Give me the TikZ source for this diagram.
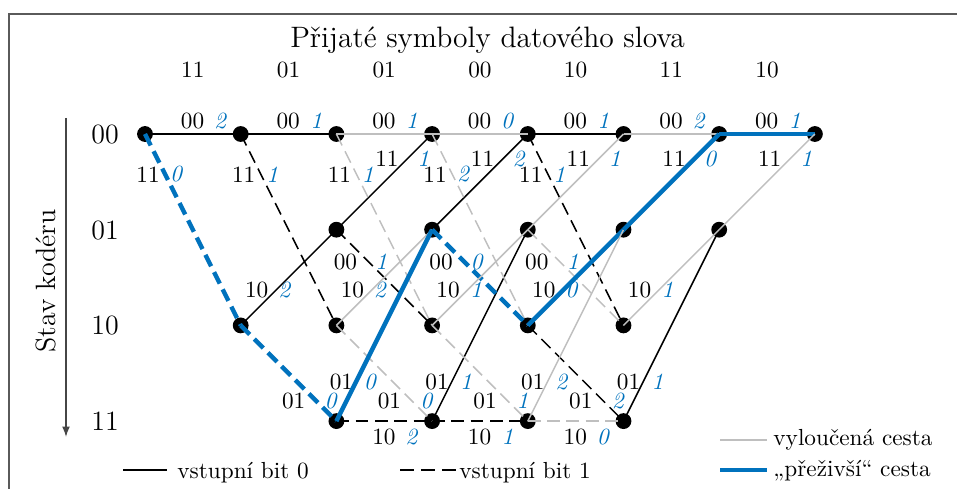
\documentclass[tikz,border=0pt]{standalone}
\usepackage{fontspec}
\usetikzlibrary{arrows.meta}
\definecolor{survblue}{RGB}{0,114,189}
\definecolor{exgray}{RGB}{191,191,191}
\definecolor{framecol}{RGB}{90,90,90}
\definecolor{axiscol}{RGB}{70,70,70}
\pgfdeclarelayer{edgesbg}
\pgfdeclarelayer{edgesfg}
\pgfsetlayers{edgesbg,main,edgesfg}

\def\getoff#1/#2/#3\relax{\def\ox{#1}\def\oy{#2}\def\om{#3}}
\expandafter\def\csname off@00@00\endcsname{47.5/121/75.5}
\expandafter\def\csname off@00@10\endcsname{3/174.5/31.5}
\expandafter\def\csname off@01@00\endcsname{50.5/159/87}
\expandafter\def\csname off@01@10\endcsname{9/262/45}
\expandafter\def\csname off@10@01\endcsname{16/290/44}
\expandafter\def\csname off@10@11\endcsname{53/401/90.5}
\expandafter\def\csname off@11@01\endcsname{5/382/34}
\expandafter\def\csname off@11@11\endcsname{47.5/437/75.5}

% #1 step, #2 from, #3 to, #4 style, #5 layer, #6 output, #7 metric
\newcommand\tredge[7]{%
  \pgfmathtruncatemacro\nx{#1+1}%
  \begin{pgfonlayer}{#5}
    \draw[#4] (n-#1-#2.center) -- (n-\nx-#3.center);
  \end{pgfonlayer}
  \expandafter\expandafter\expandafter\getoff\csname off@#2@#3\endcsname\relax
  \pgfmathsetmacro\bx{145+95.7*#1}%
  \node[outlab] (o-#1-#2-#3) at ({\bx+\ox},\oy) {#6};
  \node[metlab] (m-#1-#2-#3) at ({\bx+\om},\oy) {\textit{#7}};
}

\tikzset{
  dot/.style={circle, fill=black, inner sep=0pt, minimum size=6.8pt},
  blk/.style={black, line width=0.65pt},
  blkd/.style={black, line width=0.65pt, dash pattern=on 5.5pt off 2.8pt},
  gry/.style={exgray, line width=0.65pt},
  gryd/.style={exgray, line width=0.65pt, dash pattern=on 5.5pt off 2.8pt},
  blu/.style={survblue, line width=1.9pt},
  blud/.style={survblue, line width=1.9pt, dash pattern=on 5.5pt off 2.8pt},
  outlab/.style={inner sep=0pt, text=black},
  metlab/.style={inner sep=0pt, text=survblue},
  legtext/.style={inner sep=0pt, anchor=base west},
}

\begin{document}
\begin{tikzpicture}[x=0.43pt, y=-0.43pt]
\useasboundingbox (0,0) rectangle (957,489);
\begin{scope}
  \clip (0,0) rectangle (957,489);
  \draw[framecol, line width=0.75pt] (9,14) rectangle (1100,700);
\end{scope}

% titles
\node[font=\fontsize{12.7}{15}\selectfont, anchor=base, inner sep=0pt] (title) at (487.5,48) {Přijaté symboly datového slova};
\foreach \k/\r in {0/11,1/01,2/01,3/00,4/10,5/11,6/10}
  \node[inner sep=0pt] (rx-\k) at ({192.8+95.7*\k},70) {\r};

% state labels and axis
\foreach \j/\s in {0/00,1/01,2/10,3/11}
  \node[font=\large, inner sep=0pt] (st-\s) at (105,{134.5+95.7*\j}) {\s};
\node[font=\large, rotate=90, anchor=base, inner sep=0pt] (axlab) at (55,281) {Stav kodéru};
\coordinate (axtop) at (66,118);
\coordinate (axbot) at (66,437);
\draw[axiscol, line width=0.65pt, -{Latex[length=4.5pt,width=3.4pt]}] (axtop) -- (axbot);

% trellis nodes
\foreach \i/\s/\j in {0/00/0, 1/00/0, 1/10/2,
    2/00/0, 2/01/1, 2/10/2, 2/11/3,
    3/00/0, 3/01/1, 3/10/2, 3/11/3,
    4/00/0, 4/01/1, 4/10/2, 4/11/3,
    5/00/0, 5/01/1, 5/10/2, 5/11/3,
    6/00/0, 6/01/1, 7/00/0}
  \node[dot] (n-\i-\s) at ({145+95.7*\i},{134+95.7*\j}) {};

% step 0
\tredge{0}{00}{00}{blk}{edgesbg}{00}{2}
\tredge{0}{00}{10}{blud}{edgesfg}{11}{0}
% step 1
\tredge{1}{00}{00}{blk}{edgesbg}{00}{1}
\tredge{1}{00}{10}{blkd}{edgesbg}{11}{1}
\tredge{1}{10}{01}{blk}{edgesbg}{10}{2}
\tredge{1}{10}{11}{blud}{edgesfg}{01}{0}
% step 2
\tredge{2}{00}{00}{gry}{edgesfg}{00}{1}
\tredge{2}{00}{10}{gryd}{edgesfg}{11}{1}
\tredge{2}{01}{00}{blk}{edgesbg}{11}{1}
\tredge{2}{01}{10}{blkd}{edgesbg}{00}{1}
\tredge{2}{10}{01}{gry}{edgesfg}{10}{2}
\tredge{2}{10}{11}{gryd}{edgesfg}{01}{0}
\tredge{2}{11}{01}{blu}{edgesfg}{01}{0}
\tredge{2}{11}{11}{blkd}{edgesbg}{10}{2}
% step 3
\tredge{3}{00}{00}{gry}{edgesfg}{00}{0}
\tredge{3}{00}{10}{gryd}{edgesfg}{11}{2}
\tredge{3}{01}{00}{blk}{edgesbg}{11}{2}
\tredge{3}{01}{10}{blud}{edgesfg}{00}{0}
\tredge{3}{10}{01}{gry}{edgesfg}{10}{1}
\tredge{3}{10}{11}{gryd}{edgesfg}{01}{1}
\tredge{3}{11}{01}{blk}{edgesbg}{01}{1}
\tredge{3}{11}{11}{blkd}{edgesbg}{10}{1}
% step 4
\tredge{4}{00}{00}{blk}{edgesbg}{00}{1}
\tredge{4}{00}{10}{blkd}{edgesbg}{11}{1}
\tredge{4}{01}{00}{gry}{edgesfg}{11}{1}
\tredge{4}{01}{10}{gryd}{edgesfg}{00}{1}
\tredge{4}{10}{01}{blu}{edgesfg}{10}{0}
\tredge{4}{10}{11}{blkd}{edgesbg}{01}{2}
\tredge{4}{11}{01}{gry}{edgesfg}{01}{2}
\tredge{4}{11}{11}{gryd}{edgesfg}{10}{0}
% step 5
\tredge{5}{00}{00}{gry}{edgesfg}{00}{2}
\tredge{5}{01}{00}{blu}{edgesfg}{11}{0}
\tredge{5}{10}{01}{gry}{edgesfg}{10}{1}
\tredge{5}{11}{01}{blk}{edgesbg}{01}{1}
% step 6
\tredge{6}{00}{00}{blu}{edgesfg}{00}{1}
\tredge{6}{01}{00}{gry}{edgesfg}{11}{1}

% legend
\coordinate (lg1a) at (123,470); \coordinate (lg1b) at (167,470);
\draw[blk] (lg1a) -- (lg1b);
\node[legtext] (lt1) at (177,479) {vstupní bit 0};
\coordinate (lg2a) at (400,470); \coordinate (lg2b) at (457,470);
\draw[black, line width=0.65pt, dash pattern=on 6pt off 3pt] (lg2a) -- (lg2b);
\node[legtext] (lt2) at (459,479) {vstupní bit 1};
\coordinate (lg3a) at (720,440); \coordinate (lg3b) at (767,440);
\draw[gry] (lg3a) -- (lg3b);
\node[legtext] (lt3) at (773,446) {vyloučená cesta};
\coordinate (lg4a) at (720,470); \coordinate (lg4b) at (767,470);
\draw[blu] (lg4a) -- (lg4b);
\node[legtext] (lt4) at (773,477) {„přeživší“ cesta};
\end{tikzpicture}
\end{document}
